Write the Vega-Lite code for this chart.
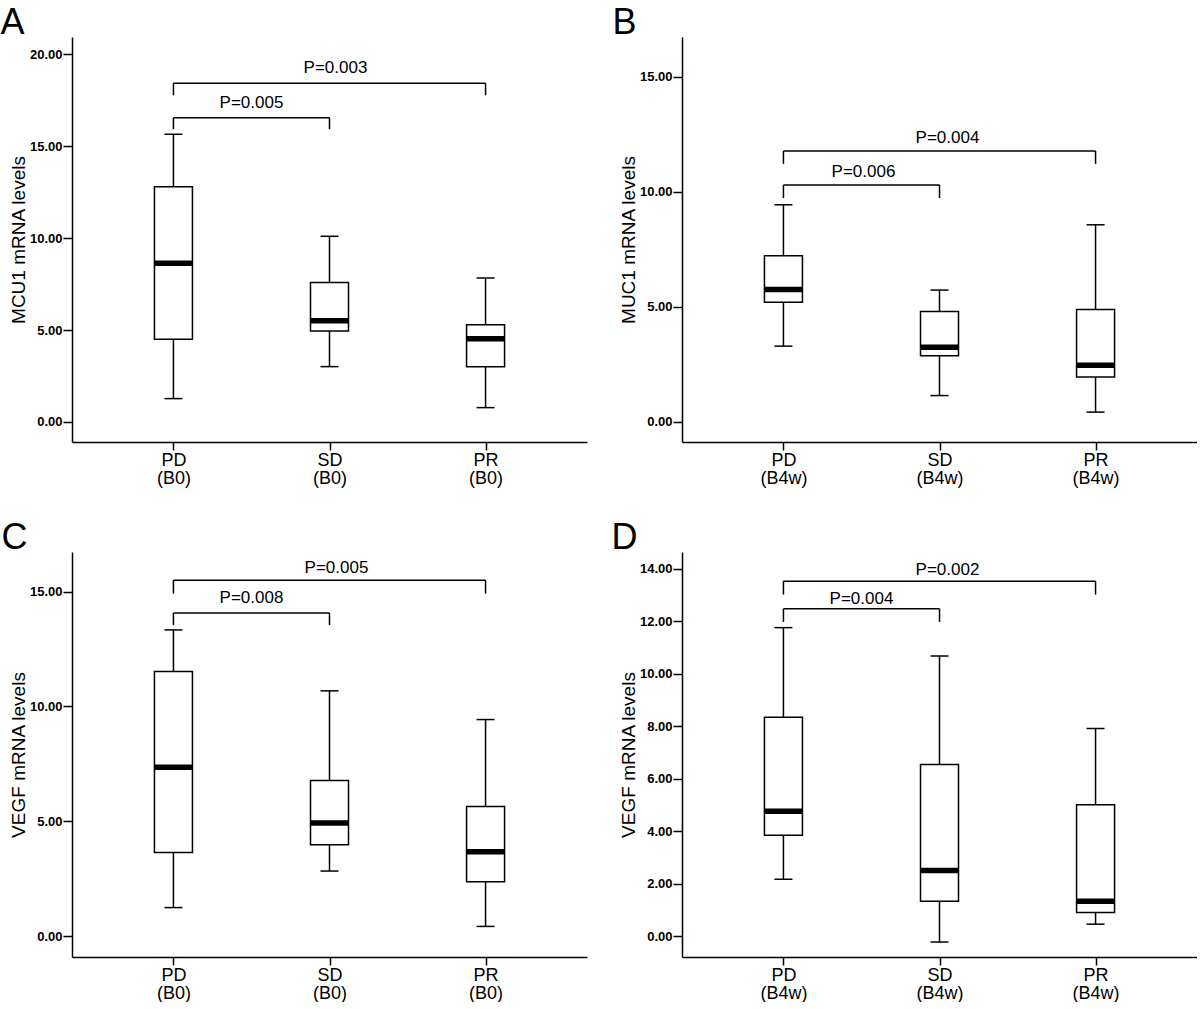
{
  "$schema": "https://vega.github.io/schema/vega-lite/v6.json",
  "background": "white",
  "padding": {"left": 0, "top": 4, "right": 0, "bottom": 0},
  "config": {
    "view": {"stroke": null},
    "font": "Liberation Sans",
    "axis": {"grid": false, "domainColor": "black", "domainWidth": 1.5, "tickColor": "black", "tickWidth": 1.5, "labelColor": "black", "titleColor": "black", "labelFont": "Liberation Sans", "titleFont": "Liberation Sans"},
    "axisX": {"title": null, "labelAngle": 0, "labelFontSize": 18, "labelLineHeight": 18, "tickSize": 8, "labelPadding": 1},
    "axisY": {"labelFontSize": 13, "labelFontWeight": "bold", "tickSize": 9, "labelPadding": 1, "titleFontSize": 19, "titleFontWeight": "normal", "titlePadding": 1, "format": ".2f"},
    "title": {"anchor": "start", "frame": "bounds", "fontSize": 36, "fontWeight": "normal", "font": "Liberation Sans", "color": "black", "offset": -4.5}
  },
  "columns": 2,
  "spacing": {"column": 24, "row": 32},
  "concat": [
    {
      "width": 515, "height": 405,
      "title": {"text": "A", "dx": -9},
      "data": {"values": [
        {"g": "PD", "lo": 1.27, "q1": 4.50, "med": 8.63, "q3": 12.80, "hi": 15.65},
        {"g": "SD", "lo": 3.01, "q1": 4.95, "med": 5.51, "q3": 7.58, "hi": 10.10},
        {"g": "PR", "lo": 0.78, "q1": 3.01, "med": 4.53, "q3": 5.29, "hi": 7.83}
      ]},
      "encoding": {"x": {"field": "g", "type": "nominal", "scale": {"type": "point", "domain": ["PD", "SD", "PR"], "padding": 0.65}, "axis": {"labelExpr": "[datum.label, '(B0)']"}}},
      "layer": [
        {"mark": {"type": "rule", "color": "black", "strokeWidth": 1.5}, "encoding": {"y": {"field": "lo", "type": "quantitative", "scale": {"domain": [-1.09, 20.94], "nice": false, "zero": false}, "axis": {"title": "MCU1 mRNA levels", "values": [0, 5, 10, 15, 20]}}, "y2": {"field": "hi"}}},
        {"mark": {"type": "tick", "size": 18, "thickness": 1.5, "color": "black", "opacity": 1}, "encoding": {"y": {"field": "lo", "type": "quantitative"}}},
        {"mark": {"type": "tick", "size": 18, "thickness": 1.5, "color": "black", "opacity": 1}, "encoding": {"y": {"field": "hi", "type": "quantitative"}}},
        {"mark": {"type": "bar", "size": 38, "fill": "white", "stroke": "black", "strokeWidth": 1.5}, "encoding": {"y": {"field": "q1", "type": "quantitative"}, "y2": {"field": "q3"}}},
        {"mark": {"type": "tick", "size": 38, "thickness": 5.5, "color": "black", "opacity": 1}, "encoding": {"y": {"field": "med", "type": "quantitative"}}},
        {"data": {"values": [{"a": "PD", "b": "SD", "y": 16.55, "yd": 15.92}, {"a": "PD", "b": "PR", "y": 18.42, "yd": 17.77}]},
         "layer": [
          {"mark": {"type": "rule", "color": "black", "strokeWidth": 1.5}, "encoding": {"x": {"field": "a", "type": "nominal"}, "x2": {"field": "b"}, "y": {"field": "y", "type": "quantitative"}}},
          {"mark": {"type": "rule", "color": "black", "strokeWidth": 1.5}, "encoding": {"x": {"field": "a", "type": "nominal"}, "y": {"field": "yd", "type": "quantitative"}, "y2": {"field": "y"}}},
          {"mark": {"type": "rule", "color": "black", "strokeWidth": 1.5}, "encoding": {"x": {"field": "b", "type": "nominal"}, "y": {"field": "yd", "type": "quantitative"}, "y2": {"field": "y"}}}
         ]},
        {"data": {"values": [{"m": "SD", "ty": 17.37, "p": "P=0.005"}]}, "mark": {"type": "text", "fontSize": 17, "dx": -78, "baseline": "middle", "color": "black"}, "encoding": {"x": {"field": "m", "type": "nominal"}, "y": {"field": "ty", "type": "quantitative"}, "text": {"field": "p"}}},
        {"data": {"values": [{"m": "SD", "ty": 19.27, "p": "P=0.003"}]}, "mark": {"type": "text", "fontSize": 17, "dx": 6, "baseline": "middle", "color": "black"}, "encoding": {"x": {"field": "m", "type": "nominal"}, "y": {"field": "ty", "type": "quantitative"}, "text": {"field": "p"}}}
      ]
    },
    {
      "width": 515, "height": 405,
      "title": {"text": "B", "dx": -7},
      "data": {"values": [
        {"g": "PD", "lo": 3.29, "q1": 5.20, "med": 5.75, "q3": 7.22, "hi": 9.44},
        {"g": "SD", "lo": 1.14, "q1": 2.87, "med": 3.24, "q3": 4.80, "hi": 5.73},
        {"g": "PR", "lo": 0.42, "q1": 1.95, "med": 2.46, "q3": 4.88, "hi": 8.57}
      ]},
      "encoding": {"x": {"field": "g", "type": "nominal", "scale": {"type": "point", "domain": ["PD", "SD", "PR"], "padding": 0.65}, "axis": {"labelExpr": "[datum.label, '(B4w)']"}}},
      "layer": [
        {"mark": {"type": "rule", "color": "black", "strokeWidth": 1.5}, "encoding": {"y": {"field": "lo", "type": "quantitative", "scale": {"domain": [-0.88, 16.74], "nice": false, "zero": false}, "axis": {"title": "MUC1 mRNA levels", "values": [0, 5, 10, 15]}}, "y2": {"field": "hi"}}},
        {"mark": {"type": "tick", "size": 18, "thickness": 1.5, "color": "black", "opacity": 1}, "encoding": {"y": {"field": "lo", "type": "quantitative"}}},
        {"mark": {"type": "tick", "size": 18, "thickness": 1.5, "color": "black", "opacity": 1}, "encoding": {"y": {"field": "hi", "type": "quantitative"}}},
        {"mark": {"type": "bar", "size": 38, "fill": "white", "stroke": "black", "strokeWidth": 1.5}, "encoding": {"y": {"field": "q1", "type": "quantitative"}, "y2": {"field": "q3"}}},
        {"mark": {"type": "tick", "size": 38, "thickness": 5.5, "color": "black", "opacity": 1}, "encoding": {"y": {"field": "med", "type": "quantitative"}}},
        {"data": {"values": [{"a": "PD", "b": "SD", "y": 10.30, "yd": 9.73}, {"a": "PD", "b": "PR", "y": 11.78, "yd": 11.22}]},
         "layer": [
          {"mark": {"type": "rule", "color": "black", "strokeWidth": 1.5}, "encoding": {"x": {"field": "a", "type": "nominal"}, "x2": {"field": "b"}, "y": {"field": "y", "type": "quantitative"}}},
          {"mark": {"type": "rule", "color": "black", "strokeWidth": 1.5}, "encoding": {"x": {"field": "a", "type": "nominal"}, "y": {"field": "yd", "type": "quantitative"}, "y2": {"field": "y"}}},
          {"mark": {"type": "rule", "color": "black", "strokeWidth": 1.5}, "encoding": {"x": {"field": "b", "type": "nominal"}, "y": {"field": "yd", "type": "quantitative"}, "y2": {"field": "y"}}}
         ]},
        {"data": {"values": [{"m": "SD", "ty": 10.88, "p": "P=0.006"}]}, "mark": {"type": "text", "fontSize": 17, "dx": -76, "baseline": "middle", "color": "black"}, "encoding": {"x": {"field": "m", "type": "nominal"}, "y": {"field": "ty", "type": "quantitative"}, "text": {"field": "p"}}},
        {"data": {"values": [{"m": "SD", "ty": 12.33, "p": "P=0.004"}]}, "mark": {"type": "text", "fontSize": 17, "dx": 8, "baseline": "middle", "color": "black"}, "encoding": {"x": {"field": "m", "type": "nominal"}, "y": {"field": "ty", "type": "quantitative"}, "text": {"field": "p"}}}
      ]
    },
    {
      "width": 515, "height": 405,
      "title": {"text": "C", "dx": -8},
      "data": {"values": [
        {"g": "PD", "lo": 1.25, "q1": 3.65, "med": 7.35, "q3": 11.52, "hi": 13.33},
        {"g": "SD", "lo": 2.84, "q1": 3.98, "med": 4.93, "q3": 6.78, "hi": 10.68},
        {"g": "PR", "lo": 0.43, "q1": 2.37, "med": 3.68, "q3": 5.65, "hi": 9.43}
      ]},
      "encoding": {"x": {"field": "g", "type": "nominal", "scale": {"type": "point", "domain": ["PD", "SD", "PR"], "padding": 0.65}, "axis": {"labelExpr": "[datum.label, '(B0)']"}}},
      "layer": [
        {"mark": {"type": "rule", "color": "black", "strokeWidth": 1.5}, "encoding": {"y": {"field": "lo", "type": "quantitative", "scale": {"domain": [-0.90, 16.72], "nice": false, "zero": false}, "axis": {"title": "VEGF mRNA levels", "values": [0, 5, 10, 15]}}, "y2": {"field": "hi"}}},
        {"mark": {"type": "tick", "size": 18, "thickness": 1.5, "color": "black", "opacity": 1}, "encoding": {"y": {"field": "lo", "type": "quantitative"}}},
        {"mark": {"type": "tick", "size": 18, "thickness": 1.5, "color": "black", "opacity": 1}, "encoding": {"y": {"field": "hi", "type": "quantitative"}}},
        {"mark": {"type": "bar", "size": 38, "fill": "white", "stroke": "black", "strokeWidth": 1.5}, "encoding": {"y": {"field": "q1", "type": "quantitative"}, "y2": {"field": "q3"}}},
        {"mark": {"type": "tick", "size": 38, "thickness": 5.5, "color": "black", "opacity": 1}, "encoding": {"y": {"field": "med", "type": "quantitative"}}},
        {"data": {"values": [{"a": "PD", "b": "SD", "y": 14.07, "yd": 13.54}, {"a": "PD", "b": "PR", "y": 15.49, "yd": 14.91}]},
         "layer": [
          {"mark": {"type": "rule", "color": "black", "strokeWidth": 1.5}, "encoding": {"x": {"field": "a", "type": "nominal"}, "x2": {"field": "b"}, "y": {"field": "y", "type": "quantitative"}}},
          {"mark": {"type": "rule", "color": "black", "strokeWidth": 1.5}, "encoding": {"x": {"field": "a", "type": "nominal"}, "y": {"field": "yd", "type": "quantitative"}, "y2": {"field": "y"}}},
          {"mark": {"type": "rule", "color": "black", "strokeWidth": 1.5}, "encoding": {"x": {"field": "b", "type": "nominal"}, "y": {"field": "yd", "type": "quantitative"}, "y2": {"field": "y"}}}
         ]},
        {"data": {"values": [{"m": "SD", "ty": 14.71, "p": "P=0.008"}]}, "mark": {"type": "text", "fontSize": 17, "dx": -78, "baseline": "middle", "color": "black"}, "encoding": {"x": {"field": "m", "type": "nominal"}, "y": {"field": "ty", "type": "quantitative"}, "text": {"field": "p"}}},
        {"data": {"values": [{"m": "SD", "ty": 16.04, "p": "P=0.005"}]}, "mark": {"type": "text", "fontSize": 17, "dx": 7, "baseline": "middle", "color": "black"}, "encoding": {"x": {"field": "m", "type": "nominal"}, "y": {"field": "ty", "type": "quantitative"}, "text": {"field": "p"}}}
      ]
    },
    {
      "width": 515, "height": 405,
      "title": {"text": "D", "dx": -8},
      "data": {"values": [
        {"g": "PD", "lo": 2.17, "q1": 3.85, "med": 4.76, "q3": 8.34, "hi": 11.75},
        {"g": "SD", "lo": -0.22, "q1": 1.33, "med": 2.50, "q3": 6.54, "hi": 10.67},
        {"g": "PR", "lo": 0.46, "q1": 0.90, "med": 1.33, "q3": 5.01, "hi": 7.91}
      ]},
      "encoding": {"x": {"field": "g", "type": "nominal", "scale": {"type": "point", "domain": ["PD", "SD", "PR"], "padding": 0.65}, "axis": {"labelExpr": "[datum.label, '(B4w)']"}}},
      "layer": [
        {"mark": {"type": "rule", "color": "black", "strokeWidth": 1.5}, "encoding": {"y": {"field": "lo", "type": "quantitative", "scale": {"domain": [-0.79, 14.63], "nice": false, "zero": false}, "axis": {"title": "VEGF mRNA levels", "values": [0, 2, 4, 6, 8, 10, 12, 14]}}, "y2": {"field": "hi"}}},
        {"mark": {"type": "tick", "size": 18, "thickness": 1.5, "color": "black", "opacity": 1}, "encoding": {"y": {"field": "lo", "type": "quantitative"}}},
        {"mark": {"type": "tick", "size": 18, "thickness": 1.5, "color": "black", "opacity": 1}, "encoding": {"y": {"field": "hi", "type": "quantitative"}}},
        {"mark": {"type": "bar", "size": 38, "fill": "white", "stroke": "black", "strokeWidth": 1.5}, "encoding": {"y": {"field": "q1", "type": "quantitative"}, "y2": {"field": "q3"}}},
        {"mark": {"type": "tick", "size": 38, "thickness": 5.5, "color": "black", "opacity": 1}, "encoding": {"y": {"field": "med", "type": "quantitative"}}},
        {"data": {"values": [{"a": "PD", "b": "SD", "y": 12.47, "yd": 11.97}, {"a": "PD", "b": "PR", "y": 13.52, "yd": 13.01}]},
         "layer": [
          {"mark": {"type": "rule", "color": "black", "strokeWidth": 1.5}, "encoding": {"x": {"field": "a", "type": "nominal"}, "x2": {"field": "b"}, "y": {"field": "y", "type": "quantitative"}}},
          {"mark": {"type": "rule", "color": "black", "strokeWidth": 1.5}, "encoding": {"x": {"field": "a", "type": "nominal"}, "y": {"field": "yd", "type": "quantitative"}, "y2": {"field": "y"}}},
          {"mark": {"type": "rule", "color": "black", "strokeWidth": 1.5}, "encoding": {"x": {"field": "b", "type": "nominal"}, "y": {"field": "yd", "type": "quantitative"}, "y2": {"field": "y"}}}
         ]},
        {"data": {"values": [{"m": "SD", "ty": 12.84, "p": "P=0.004"}]}, "mark": {"type": "text", "fontSize": 17, "dx": -78, "baseline": "middle", "color": "black"}, "encoding": {"x": {"field": "m", "type": "nominal"}, "y": {"field": "ty", "type": "quantitative"}, "text": {"field": "p"}}},
        {"data": {"values": [{"m": "SD", "ty": 13.93, "p": "P=0.002"}]}, "mark": {"type": "text", "fontSize": 17, "dx": 8, "baseline": "middle", "color": "black"}, "encoding": {"x": {"field": "m", "type": "nominal"}, "y": {"field": "ty", "type": "quantitative"}, "text": {"field": "p"}}}
      ]
    }
  ]
}
